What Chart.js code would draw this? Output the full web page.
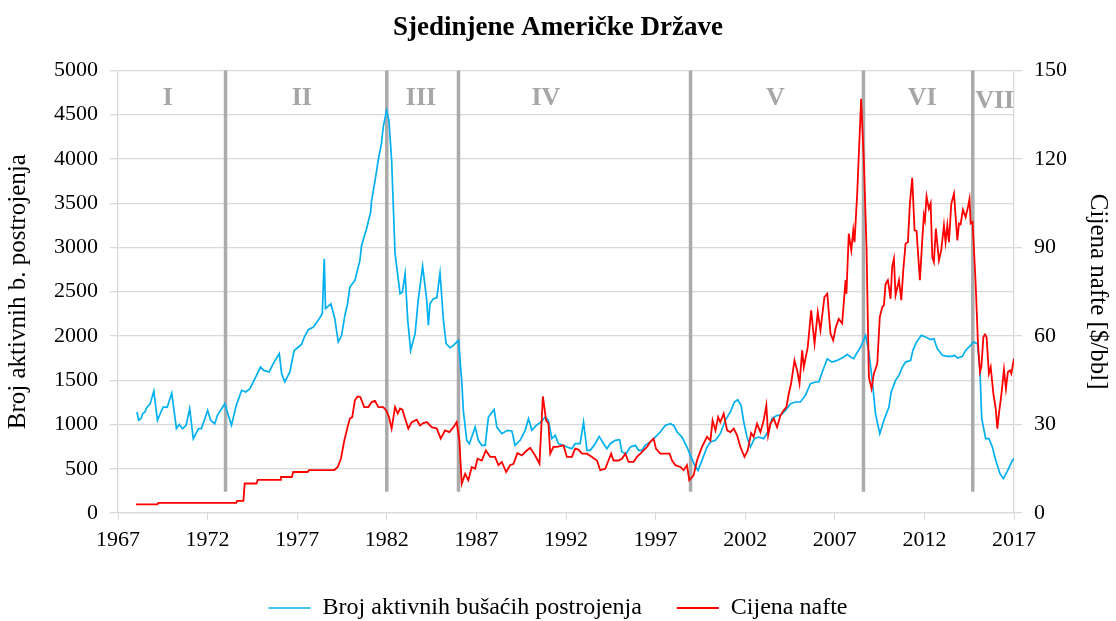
<!DOCTYPE html>
<html>
<head>
<meta charset="utf-8">
<script src="https://cdn.jsdelivr.net/npm/chart.js"></script>
<style>
  body { margin: 0; background: #fff; }
</style>
</head>
<body>
<canvas id="grafikon" width="1116" height="621"></canvas>

<script>

// broj aktivnih busacih postrojenja (lijeva os)
const rigYears = [1968.06,1968.15,1968.28,1968.38,1968.5,1968.6,1968.8,1969.0,1969.2,1969.37,1969.52,1969.75,1970.0,1970.26,1970.42,1970.6,1970.8,1971.0,1971.2,1971.5,1971.65,1971.85,1972.0,1972.17,1972.4,1972.55,1972.78,1972.96,1973.33,1973.6,1973.9,1974.13,1974.36,1974.73,1974.95,1975.14,1975.44,1975.66,1976.0,1976.13,1976.31,1976.59,1976.83,1977.02,1977.24,1977.4,1977.62,1977.9,1978.03,1978.23,1978.4,1978.51,1978.58,1978.88,1979.1,1979.29,1979.48,1979.66,1979.81,1979.94,1980.22,1980.5,1980.59,1980.87,1981.1,1981.14,1981.33,1981.52,1981.7,1981.8,1981.99,1982.12,1982.27,1982.46,1982.74,1982.87,1983.02,1983.17,1983.33,1983.58,1983.75,1984.0,1984.23,1984.32,1984.41,1984.6,1984.79,1984.97,1985.16,1985.31,1985.53,1985.72,1985.9,1986.0,1986.18,1986.27,1986.46,1986.61,1986.74,1986.93,1987.11,1987.3,1987.49,1987.67,1987.99,1988.14,1988.42,1988.73,1988.98,1989.16,1989.44,1989.72,1989.91,1990.09,1990.34,1990.6,1990.84,1991.02,1991.21,1991.4,1991.58,1991.86,1992.05,1992.33,1992.51,1992.79,1992.98,1993.17,1993.35,1993.63,1993.85,1994.1,1994.28,1994.47,1994.75,1994.99,1995.12,1995.35,1995.59,1995.87,1996.05,1996.24,1996.42,1996.7,1996.98,1997.26,1997.54,1997.82,1998.01,1998.2,1998.47,1998.75,1998.94,1999.18,1999.37,1999.59,1999.87,2000.06,2000.34,2000.61,2000.89,2001.17,2001.4,2001.58,2001.77,2001.92,2002.1,2002.29,2002.51,2002.75,2003.03,2003.31,2003.5,2003.78,2003.97,2004.25,2004.53,2004.8,2005.08,2005.36,2005.64,2005.92,2006.11,2006.3,2006.58,2006.85,2007.13,2007.5,2007.69,2007.88,2008.06,2008.21,2008.44,2008.72,2008.9,2009.09,2009.27,2009.51,2009.74,2010.02,2010.15,2010.39,2010.58,2010.77,2010.95,2011.23,2011.36,2011.56,2011.83,2012.07,2012.35,2012.53,2012.72,2013.0,2013.28,2013.56,2013.69,2013.84,2014.12,2014.3,2014.58,2014.73,2014.96,2015.1,2015.2,2015.42,2015.6,2015.79,2015.98,2016.22,2016.41,2016.63,2016.91,2017.0];
const rigCount = [1141,1047,1068,1122,1141,1190,1235,1378,1047,1130,1197,1197,1355,953,1001,953,990,1178,840,953,953,1066,1160,1047,1009,1103,1178,1235,990,1216,1386,1367,1404,1555,1649,1611,1593,1687,1800,1574,1480,1593,1837,1867,1905,1988,2071,2101,2139,2195,2251,2873,2308,2364,2195,1931,2007,2233,2364,2553,2628,2854,3023,3212,3400,3513,3739,3983,4172,4360,4548,4435,3983,2929,2477,2496,2703,2176,1837,2026,2402,2786,2402,2120,2364,2421,2432,2711,2176,1913,1867,1894,1931,1950,1498,1160,821,783,858,971,821,764,764,1084,1167,971,896,934,926,764,821,934,1066,934,990,1028,1084,1047,840,877,783,764,745,727,783,783,1028,708,708,783,866,783,727,783,821,828,689,670,745,764,708,708,764,802,858,915,990,1009,990,915,858,745,651,538,482,595,745,802,821,896,1047,1141,1254,1280,1216,1028,858,745,840,858,840,934,1066,1103,1103,1160,1235,1254,1254,1329,1461,1480,1480,1593,1743,1705,1724,1762,1792,1762,1743,1800,1875,2007,1818,1498,1122,896,1047,1197,1367,1498,1555,1649,1705,1724,1837,1931,2007,1988,1958,1969,1856,1781,1770,1770,1781,1751,1770,1837,1894,1931,1913,1611,1066,840,840,745,595,444,388,474,595,614];

// cijena nafte, $/bbl (desna os)
const oilYears = [1968.0,1969.2,1969.25,1973.6,1973.65,1974.0,1974.07,1974.73,1974.8,1976.05,1976.09,1976.7,1976.78,1977.58,1977.65,1979.07,1979.26,1979.44,1979.63,1979.81,1979.94,1980.07,1980.22,1980.37,1980.52,1980.74,1980.97,1981.16,1981.34,1981.53,1981.8,1981.99,1982.12,1982.27,1982.46,1982.61,1982.74,1982.87,1983.02,1983.2,1983.39,1983.67,1983.85,1984.04,1984.23,1984.51,1984.79,1985.01,1985.25,1985.49,1985.72,1985.9,1986.05,1986.18,1986.37,1986.55,1986.74,1986.93,1987.06,1987.3,1987.53,1987.77,1988.04,1988.23,1988.42,1988.66,1988.88,1989.07,1989.29,1989.54,1989.78,1990.0,1990.28,1990.52,1990.71,1990.89,1991.02,1991.12,1991.3,1991.49,1991.86,1992.05,1992.33,1992.51,1992.7,1992.89,1993.17,1993.45,1993.73,1993.91,1994.19,1994.37,1994.52,1994.65,1994.93,1995.12,1995.31,1995.49,1995.77,1995.96,1996.15,1996.33,1996.52,1996.7,1996.89,1997.02,1997.26,1997.54,1997.78,1997.92,1998.1,1998.38,1998.56,1998.75,1998.88,1999.12,1999.31,1999.59,1999.87,2000.06,2000.18,2000.34,2000.49,2000.61,2000.8,2000.99,2001.17,2001.36,2001.55,2001.73,2001.96,2002.14,2002.33,2002.47,2002.66,2002.85,2003.03,2003.18,2003.28,2003.41,2003.59,2003.78,2003.97,2004.15,2004.3,2004.43,2004.56,2004.75,2004.9,2005.03,2005.18,2005.27,2005.49,2005.68,2005.87,2006.05,2006.2,2006.42,2006.58,2006.76,2006.91,2007.06,2007.22,2007.41,2007.6,2007.65,2007.78,2007.92,2008.03,2008.1,2008.25,2008.47,2008.62,2008.77,2008.9,2009.05,2009.18,2009.37,2009.51,2009.65,2009.74,2009.83,2009.96,2010.02,2010.11,2010.2,2010.3,2010.39,2010.58,2010.71,2010.82,2010.95,2011.08,2011.19,2011.32,2011.45,2011.56,2011.75,2011.88,2011.97,2012.03,2012.12,2012.25,2012.35,2012.44,2012.53,2012.64,2012.81,2012.94,2013.09,2013.18,2013.28,2013.37,2013.5,2013.65,2013.84,2013.93,2014.02,2014.15,2014.3,2014.43,2014.52,2014.58,2014.69,2014.86,2014.99,2015.1,2015.18,2015.29,2015.38,2015.47,2015.6,2015.7,2015.85,2015.98,2016.07,2016.16,2016.3,2016.44,2016.55,2016.66,2016.78,2016.85,2017.0];
const oilPrice = [2.9,2.9,3.4,3.4,4.1,4.1,10.0,10.0,11.2,11.2,12.2,12.2,13.9,13.9,14.5,14.5,15.6,18.4,24.6,29.1,32.0,32.5,38.2,39.5,39.3,35.9,35.9,37.6,38.0,35.9,35.9,34.6,32.5,28.6,35.9,33.7,35.4,35.0,32.0,28.6,30.8,31.6,29.7,30.5,30.8,29.1,28.6,25.2,28.0,27.4,29.1,30.8,24.6,9.9,13.3,11.1,15.6,15.0,18.4,17.8,21.2,19.0,19.0,16.2,17.3,13.9,16.2,16.7,20.3,19.5,21.0,22.1,19.5,16.7,39.5,31.4,30.3,20.1,22.4,22.4,22.9,19.0,19.0,21.8,21.5,20.1,20.1,19.0,17.8,14.5,15.0,17.8,20.1,17.8,17.8,18.4,20.1,17.3,17.3,19.0,20.1,21.2,22.4,24.1,25.2,21.8,20.1,20.1,20.1,17.8,16.2,15.6,14.5,16.2,11.1,12.8,17.8,22.4,25.8,24.6,31.4,28.0,32.5,30.8,33.7,28.0,27.4,28.6,26.3,22.4,19.0,21.2,27.1,25.8,30.3,27.4,31.4,36.5,26.3,30.3,32.0,29.1,33.1,34.8,35.9,40.4,43.8,51.7,48.3,43.8,55.1,49.4,56.2,68.7,57.4,68.1,61.9,73.2,74.3,60.8,58.5,63.0,65.8,64.2,78.9,74.3,94.7,89.0,95.8,91.8,108.2,140.4,119.5,90.1,46.1,42.1,47.2,50.6,66.4,69.8,70.4,77.5,78.9,76.6,72.6,83.4,86.2,73.8,78.9,72.1,82.2,91.3,91.8,104.8,113.6,95.8,95.6,78.9,92.4,100.9,99.2,107.3,103.1,105.0,86.7,85.0,96.4,85.6,89.0,97.5,91.8,97.5,91.8,104.8,108.2,92.4,98.1,97.8,102.8,100.3,103.7,106.5,98.1,98.6,77.7,57.4,47.8,49.5,59.6,60.5,59.6,47.2,49.5,40.4,35.4,28.6,33.7,40.4,48.6,42.1,47.8,48.3,47.2,52.3];

// granice razdoblja i oznake
const breakYears = [1973.0, 1982.0, 1986.0, 1998.95, 2008.6, 2014.7];
const breakBottom = 240;
const phaseLabels = ['I', 'II', 'III', 'IV', 'V', 'VI', 'VII'];
const phaseYears = [1969.78, 1977.26, 1983.91, 1990.88, 2003.69, 2011.88, 2015.92];
const phaseLevel = [4690, 4690, 4690, 4690, 4690, 4680, 4650];

const xTicks = [1967, 1972, 1977, 1982, 1987, 1992, 1997, 2002, 2007, 2012, 2017];

const rigPoints = rigYears.map((g, i) => ({x: g, y: rigCount[i]}));
const oilPoints = oilYears.map((g, i) => ({x: g, y: oilPrice[i]}));

const razdoblja = {
    id: 'razdoblja',
    beforeDatasetsDraw(chart) {
        const ctx = chart.ctx;
        const x = chart.scales.x;
        const y = chart.scales.y;
        ctx.save();
        ctx.strokeStyle = '#ababab';
        ctx.lineWidth = 3.5;
        breakYears.forEach(g => {
            const px = x.getPixelForValue(g);
            ctx.beginPath();
            ctx.moveTo(px, y.getPixelForValue(5000));
            ctx.lineTo(px, y.getPixelForValue(breakBottom));
            ctx.stroke();
        });
        ctx.fillStyle = '#a6a6a6';
        ctx.font = 'bold 26px "Liberation Serif"';
        ctx.textAlign = 'center';
        ctx.textBaseline = 'middle';
        phaseLabels.forEach((t, i) => {
            ctx.fillText(t, x.getPixelForValue(phaseYears[i]), y.getPixelForValue(phaseLevel[i]));
        });
        ctx.restore();
    }
};

Chart.defaults.font.family = '"Liberation Serif", "Times New Roman", serif';
Chart.defaults.color = '#000';

var ctx = document.getElementById('grafikon').getContext('2d');
var chart = new Chart(ctx, {
    type: 'line',
    data: {
        datasets: [{
            label: 'Broj aktivnih bušaćih postrojenja',
            data: rigPoints,
            yAxisID: 'y',
            borderColor: '#00b0f0',
            backgroundColor: '#00b0f0',
            borderWidth: 1.7,
            pointRadius: 0,
            tension: 0,
            order: 2
        }, {
            label: 'Cijena nafte',
            data: oilPoints,
            yAxisID: 'y2',
            borderColor: '#ff0000',
            backgroundColor: '#ff0000',
            borderWidth: 1.8,
            pointRadius: 0,
            tension: 0,
            order: 1
        }]
    },
    options: {
        responsive: false,
        animation: false,
        layout: { padding: { top: 0, bottom: -9, left: 0, right: 0 } },
        plugins: {
            title: {
                display: true,
                text: 'Sjedinjene Američke Države',
                font: { size: 27, weight: 'bold' },
                color: '#000',
                padding: { top: 12, bottom: 26 }
            },
            legend: {
                position: 'bottom',
                labels: {
                    usePointStyle: true,
                    pointStyle: 'line',
                    pointStyleWidth: 42,
                    padding: 35,
                    font: { size: 24 },
                    color: '#000',
                    sort: (a, b) => a.datasetIndex - b.datasetIndex
                }
            },
            tooltip: { enabled: false }
        },
        scales: {
            x: {
                type: 'linear',
                min: 1967,
                max: 2017,
                afterBuildTicks: s => { s.ticks = xTicks.map(v => ({value: v})); },
                afterFit: s => { s.height = 48; },
                ticks: { font: { size: 22 }, padding: 7, maxRotation: 0, callback: v => String(v) },
                grid: { drawOnChartArea: false, drawTicks: true, tickLength: 7, color: '#d9d9d9' },
                border: { color: '#d9d9d9', width: 1.3 }
            },
            y: {
                position: 'left',
                min: 0,
                max: 5000,
                afterFit: s => { s.width = 118; },
                ticks: { stepSize: 500, font: { size: 22 }, padding: 12, callback: v => String(v) },
                grid: { color: '#d9d9d9', lineWidth: 1.3, tickLength: 8 },
                border: { color: '#d9d9d9', width: 1.3 },
                title: { display: true, text: 'Broj aktivnih b. postrojenja', font: { size: 25 }, padding: 3 }
            },
            y2: {
                position: 'right',
                min: 0,
                max: 150,
                afterFit: s => { s.width = 102; },
                ticks: { stepSize: 30, font: { size: 22 }, padding: 12, callback: v => String(v) },
                grid: { drawOnChartArea: false, color: '#d9d9d9', lineWidth: 1.3, tickLength: 8 },
                border: { color: '#d9d9d9', width: 1.3 },
                title: { display: true, text: 'Cijena nafte [$/bbl]', font: { size: 25 }, padding: 3 }
            }
        }
    },
    plugins: [razdoblja]
});

</script>
</body>
</html>
